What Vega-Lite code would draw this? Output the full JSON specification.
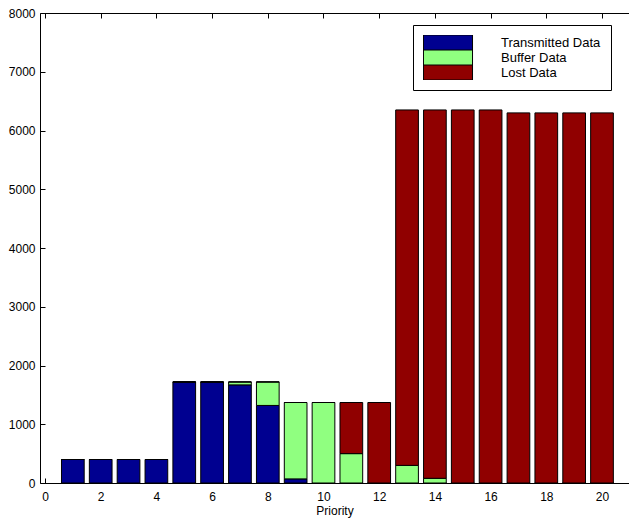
{
  "$schema": "https://vega.github.io/schema/vega-lite/v6.json",
  "autosize": {"type": "none"},
  "padding": {"left": 40, "top": 13, "right": 0, "bottom": 35},
  "width": 589,
  "height": 470,
  "background": "white",
  "config": {
    "font": "Liberation Sans",
    "view": {"stroke": null},
    "axis": {"labelFont": "Liberation Sans", "titleFont": "Liberation Sans", "labelFontSize": 12, "titleFontSize": 12, "titleFontWeight": "normal", "labelColor": "black", "titleColor": "black", "domainColor": "black", "tickColor": "black", "grid": false, "labelFlush": false}
  },
  "data": {"values": [
    {"Priority": 1, "Type": "Transmitted Data", "Value": 400}, {"Priority": 1, "Type": "Buffer Data", "Value": 0}, {"Priority": 1, "Type": "Lost Data", "Value": 0},
    {"Priority": 2, "Type": "Transmitted Data", "Value": 400}, {"Priority": 2, "Type": "Buffer Data", "Value": 0}, {"Priority": 2, "Type": "Lost Data", "Value": 0},
    {"Priority": 3, "Type": "Transmitted Data", "Value": 400}, {"Priority": 3, "Type": "Buffer Data", "Value": 0}, {"Priority": 3, "Type": "Lost Data", "Value": 0},
    {"Priority": 4, "Type": "Transmitted Data", "Value": 400}, {"Priority": 4, "Type": "Buffer Data", "Value": 0}, {"Priority": 4, "Type": "Lost Data", "Value": 0},
    {"Priority": 5, "Type": "Transmitted Data", "Value": 1720}, {"Priority": 5, "Type": "Buffer Data", "Value": 0}, {"Priority": 5, "Type": "Lost Data", "Value": 0},
    {"Priority": 6, "Type": "Transmitted Data", "Value": 1720}, {"Priority": 6, "Type": "Buffer Data", "Value": 0}, {"Priority": 6, "Type": "Lost Data", "Value": 0},
    {"Priority": 7, "Type": "Transmitted Data", "Value": 1670}, {"Priority": 7, "Type": "Buffer Data", "Value": 50}, {"Priority": 7, "Type": "Lost Data", "Value": 0},
    {"Priority": 8, "Type": "Transmitted Data", "Value": 1320}, {"Priority": 8, "Type": "Buffer Data", "Value": 400}, {"Priority": 8, "Type": "Lost Data", "Value": 0},
    {"Priority": 9, "Type": "Transmitted Data", "Value": 70}, {"Priority": 9, "Type": "Buffer Data", "Value": 1300}, {"Priority": 9, "Type": "Lost Data", "Value": 0},
    {"Priority": 10, "Type": "Transmitted Data", "Value": 0}, {"Priority": 10, "Type": "Buffer Data", "Value": 1370}, {"Priority": 10, "Type": "Lost Data", "Value": 0},
    {"Priority": 11, "Type": "Transmitted Data", "Value": 0}, {"Priority": 11, "Type": "Buffer Data", "Value": 500}, {"Priority": 11, "Type": "Lost Data", "Value": 870},
    {"Priority": 12, "Type": "Transmitted Data", "Value": 0}, {"Priority": 12, "Type": "Buffer Data", "Value": 0}, {"Priority": 12, "Type": "Lost Data", "Value": 1370},
    {"Priority": 13, "Type": "Transmitted Data", "Value": 0}, {"Priority": 13, "Type": "Buffer Data", "Value": 300}, {"Priority": 13, "Type": "Lost Data", "Value": 6050},
    {"Priority": 14, "Type": "Transmitted Data", "Value": 0}, {"Priority": 14, "Type": "Buffer Data", "Value": 80}, {"Priority": 14, "Type": "Lost Data", "Value": 6270},
    {"Priority": 15, "Type": "Transmitted Data", "Value": 0}, {"Priority": 15, "Type": "Buffer Data", "Value": 0}, {"Priority": 15, "Type": "Lost Data", "Value": 6350},
    {"Priority": 16, "Type": "Transmitted Data", "Value": 0}, {"Priority": 16, "Type": "Buffer Data", "Value": 0}, {"Priority": 16, "Type": "Lost Data", "Value": 6350},
    {"Priority": 17, "Type": "Transmitted Data", "Value": 0}, {"Priority": 17, "Type": "Buffer Data", "Value": 0}, {"Priority": 17, "Type": "Lost Data", "Value": 6300},
    {"Priority": 18, "Type": "Transmitted Data", "Value": 0}, {"Priority": 18, "Type": "Buffer Data", "Value": 0}, {"Priority": 18, "Type": "Lost Data", "Value": 6300},
    {"Priority": 19, "Type": "Transmitted Data", "Value": 0}, {"Priority": 19, "Type": "Buffer Data", "Value": 0}, {"Priority": 19, "Type": "Lost Data", "Value": 6300},
    {"Priority": 20, "Type": "Transmitted Data", "Value": 0}, {"Priority": 20, "Type": "Buffer Data", "Value": 0}, {"Priority": 20, "Type": "Lost Data", "Value": 6300}
  ]},
  "transform": [
    {"calculate": "indexof(['Transmitted Data', 'Buffer Data', 'Lost Data'], datum.Type)", "as": "StackOrder"}
  ],
  "layer": [
    {
      "mark": {"type": "bar", "width": 22.7, "stroke": "black", "strokeWidth": 1, "opacity": 1},
      "encoding": {
        "x": {"field": "Priority", "type": "quantitative", "scale": {"domain": [0, 20.79], "nice": false, "zero": true},
          "axis": {"values": [0, 2, 4, 6, 8, 10, 12, 14, 16, 18, 20], "title": "Priority", "tickSize": -5, "labelPadding": 13, "titlePadding": 3, "labelFlush": false, "labelAlign": "center"}},
        "y": {"field": "Value", "type": "quantitative", "stack": "zero", "scale": {"domain": [0, 8000], "nice": false},
          "axis": {"values": [0, 1000, 2000, 3000, 4000, 5000, 6000, 7000, 8000], "format": "d", "title": null, "tickSize": -5, "labelPadding": 10, "labelFlush": false}},
        "order": {"field": "StackOrder", "type": "quantitative", "sort": "ascending"},
        "color": {"field": "Type", "type": "nominal", "sort": ["Transmitted Data", "Buffer Data", "Lost Data"],
          "scale": {"domain": ["Transmitted Data", "Buffer Data", "Lost Data"], "range": ["#000090", "#90ff80", "#900000"]},
          "legend": {"title": null, "orient": "none", "legendX": 373, "legendY": 12, "padding": 10, "strokeColor": "black", "fillColor": "white",
            "symbolType": "M-3.27,-1H3.27V1H-3.27Z", "symbolSize": 225, "symbolOffset": 17, "labelOffset": 45, "rowPadding": 0, "clipHeight": 15,
            "labelFontSize": 13, "labelFont": "Liberation Sans", "labelColor": "black", "symbolStrokeColor": "black", "symbolStrokeWidth": 1, "symbolOpacity": 1}}
      }
    },
    {
      "mark": {"type": "point", "opacity": 0},
      "encoding": {
        "x": {"field": "Priority", "type": "quantitative",
          "axis": {"orient": "top", "values": [0, 2, 4, 6, 8, 10, 12, 14, 16, 18, 20], "labels": false, "title": null, "tickSize": -5}},
        "y": {"field": "Value", "type": "quantitative"}
      }
    }
  ],
  "resolve": {"axis": {"x": "independent"}}
}
